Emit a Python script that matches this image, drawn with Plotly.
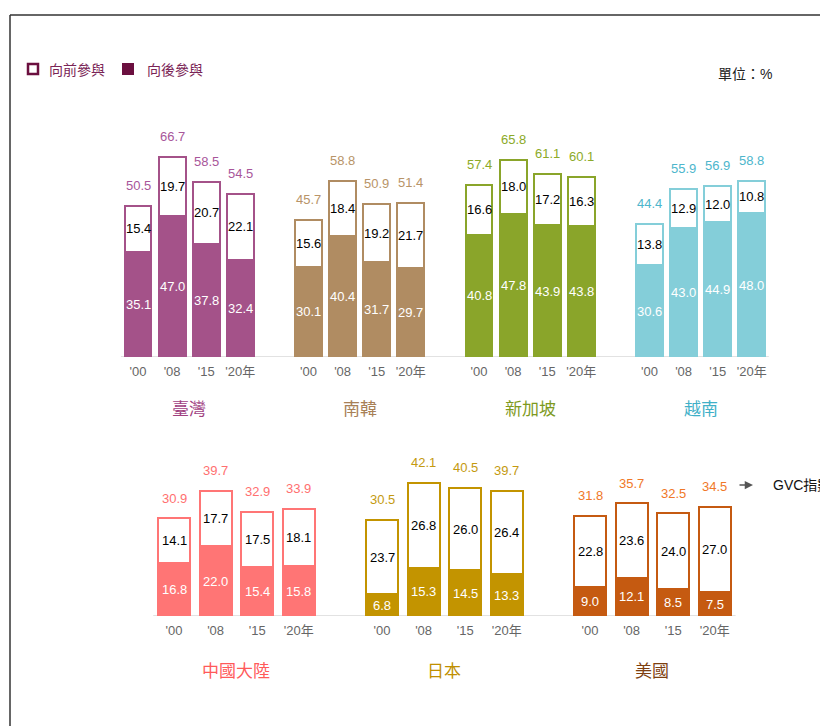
import plotly.graph_objects as go

# ---------------- data ----------------
years = ["'00", "'08", "'15", "'20年"]

top_groups = ["臺灣", "南韓", "新加坡", "越南"]
bottom_groups = ["中國大陸", "日本", "美國"]

taiwan_back = [35.1, 47.0, 37.8, 32.4]
taiwan_fwd = [15.4, 19.7, 20.7, 22.1]
taiwan_total = [50.5, 66.7, 58.5, 54.5]

korea_back = [30.1, 40.4, 31.7, 29.7]
korea_fwd = [15.6, 18.4, 19.2, 21.7]
korea_total = [45.7, 58.8, 50.9, 51.4]

singapore_back = [40.8, 47.8, 43.9, 43.8]
singapore_fwd = [16.6, 18.0, 17.2, 16.3]
singapore_total = [57.4, 65.8, 61.1, 60.1]

vietnam_back = [30.6, 43.0, 44.9, 48.0]
vietnam_fwd = [13.8, 12.9, 12.0, 10.8]
vietnam_total = [44.4, 55.9, 56.9, 58.8]

china_back = [16.8, 22.0, 15.4, 15.8]
china_fwd = [14.1, 17.7, 17.5, 18.1]
china_total = [30.9, 39.7, 32.9, 33.9]

japan_back = [6.8, 15.3, 14.5, 13.3]
japan_fwd = [23.7, 26.8, 26.0, 26.4]
japan_total = [30.5, 42.1, 40.5, 39.7]

usa_back = [9.0, 12.1, 8.5, 7.5]
usa_fwd = [22.8, 23.6, 24.0, 27.0]
usa_total = [31.8, 35.7, 32.5, 34.5]

legend_labels = ["向前參與", "向後參與"]
unit_label = "單位：%"
gvc_label = "GVC指數"

# ---------------- styles ----------------
FONT = "Liberation Sans, Arial, Noto Sans CJK TC, sans-serif"
W, H = 828, 726
OFF = 8  # page body margin


def xp(px):
    return (px - OFF) / W


def yp(py):
    return 1 - (py - OFF) / H


top_series = [
    (taiwan_back, taiwan_fwd, taiwan_total),
    (korea_back, korea_fwd, korea_total),
    (singapore_back, singapore_fwd, singapore_total),
    (vietnam_back, vietnam_fwd, vietnam_total),
]
bottom_series = [
    (china_back, china_fwd, china_total),
    (japan_back, japan_fwd, japan_total),
    (usa_back, usa_fwd, usa_total),
]
# (bar colour, value-label colour, title colour)
top_colors = [
    ("#A45289", "#A8569A", "#A0407F"),
    ("#B08C62", "#B89468", "#A88056"),
    ("#8AA52A", "#8CAA28", "#7E9A1E"),
    ("#84CED9", "#4DB6CC", "#3FB0C8"),
]
bottom_colors = [
    ("#FF7575", "#FF7070", "#FF5A5A"),
    ("#C39400", "#C49A10", "#C08F00"),
    ("#C55A11", "#F07828", "#7E3F10"),
]

fig = go.Figure()
annotations = []
shapes = []

NUM = 13


def add_row(groups, series, colors, xa, ya, bar_w, title_shift):
    for g, (name, (back, fwd, total), (bc, lc, tc)) in enumerate(zip(groups, series, colors)):
        xs = [g * 5 + j for j in range(len(years))]
        fig.add_trace(go.Bar(
            x=xs, y=back, width=bar_w, xaxis=xa, yaxis=ya,
            marker=dict(color=bc, line=dict(color=bc, width=2)),
            showlegend=False, hoverinfo="skip"))
        fig.add_trace(go.Bar(
            x=xs, y=fwd, width=bar_w, xaxis=xa, yaxis=ya,
            marker=dict(color="white", line=dict(color=bc, width=2)),
            showlegend=False, hoverinfo="skip"))
        for x, b, f, t in zip(xs, back, fwd, total):
            annotations.append(dict(x=x, y=b / 2, xref=xa, yref=ya, text=f"{b:.1f}",
                                    showarrow=False, font=dict(size=NUM, color="white", family=FONT)))
            annotations.append(dict(x=x, y=b + f / 2, xref=xa, yref=ya, text=f"{f:.1f}",
                                    showarrow=False, font=dict(size=NUM, color="black", family=FONT)))
            annotations.append(dict(x=x, y=t, xref=xa, yref=ya, text=f"{t:.1f}",
                                    showarrow=False, yanchor="bottom", yshift=11,
                                    font=dict(size=NUM, color=lc, family=FONT)))
        annotations.append(dict(x=g * 5 + 1.5, y=0, xref=xa, yref=ya, text=name,
                                showarrow=False, yshift=title_shift,
                                font=dict(size=17, color=tc, family=FONT)))
    n_slots = len(groups) * 5 - 1
    shapes.append(dict(type="line", xref=xa, yref=ya, x0=-0.5, x1=n_slots - 0.5,
                       y0=0, y1=0, line=dict(color="#d9d9d9", width=1.5), layer="below"))
    return [g * 5 + j for g in range(len(groups)) for j in range(len(years))]


top_ticks = add_row(top_groups, top_series, top_colors, "x", "y", 0.79, -52)
bot_ticks = add_row(bottom_groups, bottom_series, bottom_colors, "x2", "y2", 0.77, -55)

top_slot, top_x0 = 34.1, 138 - OFF
bot_slot, bot_x0 = 41.6, 174 - OFF

axis_common = dict(showgrid=False, zeroline=False, showline=False, ticks="",
                   ticklabelstandoff=5,
                   tickfont=dict(size=13, color="#666666", family=FONT), automargin=False)

fig.update_layout(
    width=W, height=H,
    margin=dict(l=0, r=0, t=0, b=0),
    paper_bgcolor="white", plot_bgcolor="white",
    barmode="stack", bargap=0,
    font=dict(family=FONT),
    xaxis=dict(domain=[0, 1], anchor="y",
               range=[-top_x0 / top_slot, (W - top_x0) / top_slot],
               tickvals=top_ticks, ticktext=years * len(top_groups), **axis_common),
    yaxis=dict(domain=[yp(357), yp(147)], range=[0, 70], visible=False),
    xaxis2=dict(domain=[0, 1], anchor="y2",
                range=[-bot_x0 / bot_slot, (W - bot_x0) / bot_slot],
                tickvals=bot_ticks, ticktext=years * len(bottom_groups), **axis_common),
    yaxis2=dict(domain=[yp(616), yp(474.25)], range=[0, 45], visible=False),
)

# legend (hand-drawn)
LEG = "#6B0F3F"
shapes.append(dict(type="rect", xref="paper", yref="paper",
                   x0=xp(28), x1=xp(38), y0=yp(74), y1=yp(64),
                   line=dict(color=LEG, width=2.5), fillcolor="white"))
shapes.append(dict(type="rect", xref="paper", yref="paper",
                   x0=xp(122), x1=xp(134), y0=yp(75), y1=yp(63),
                   line=dict(color=LEG, width=0), fillcolor=LEG))
annotations.append(dict(x=xp(47), y=yp(60), xref="paper", yref="paper", text=legend_labels[0],
                        xanchor="left", showarrow=False, font=dict(size=14, color="#7A2456", family=FONT)))
annotations.append(dict(x=xp(145), y=yp(60), xref="paper", yref="paper", text=legend_labels[1],
                        xanchor="left", showarrow=False, font=dict(size=14, color="#7A2456", family=FONT)))
annotations.append(dict(x=xp(774), y=yp(64), xref="paper", yref="paper", text=unit_label,
                        xanchor="right", showarrow=False, font=dict(size=14, color="#222", family=FONT)))

# GVC arrow + label
annotations.append(dict(x=xp(753), y=yp(485), xref="paper", yref="paper", text="",
                        showarrow=True, ax=-15, ay=0, arrowhead=2, arrowsize=1.1, arrowwidth=1.5,
                        arrowcolor="#555555"))
annotations.append(dict(x=xp(771), y=yp(485), xref="paper", yref="paper", text=gvc_label,
                        xanchor="left", showarrow=False, font=dict(size=14, color="#111", family=FONT)))

# frame
shapes.append(dict(type="line", xref="paper", yref="paper", x0=xp(10), x1=xp(10),
                   y0=0, y1=yp(15), line=dict(color="#333", width=1.5)))
shapes.append(dict(type="line", xref="paper", yref="paper", x0=xp(10), x1=1,
                   y0=yp(15), y1=yp(15), line=dict(color="#333", width=1.5)))

fig.update_layout(annotations=annotations, shapes=shapes)
fig.write_html("out.html")
